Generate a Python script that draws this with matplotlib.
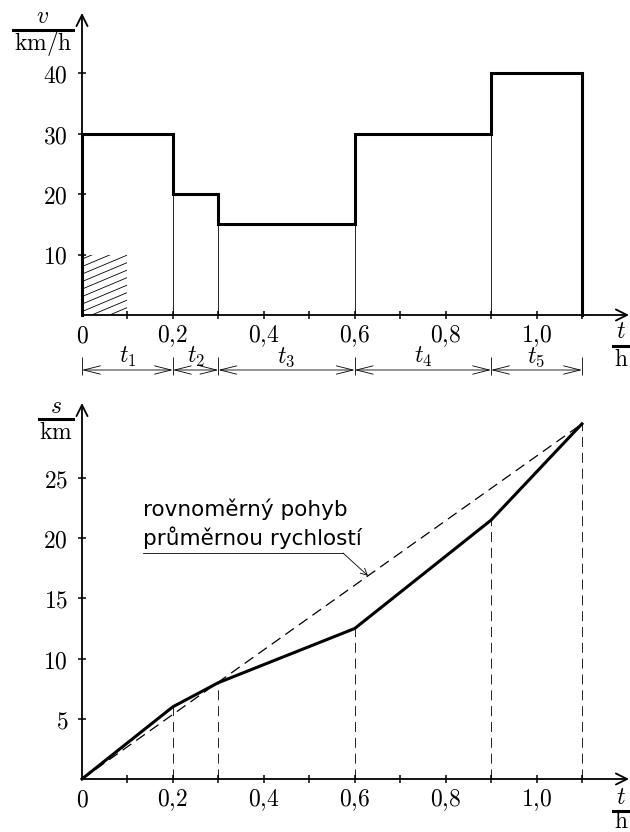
import numpy as np
import matplotlib
matplotlib.use("Agg")
import matplotlib.pyplot as plt
from matplotlib.lines import Line2D
from matplotlib.patches import Rectangle, ArrowStyle

plt.rcParams['mathtext.fontset'] = 'cm'
plt.rcParams['font.family'] = ['DejaVu Sans']

# ---- data ----
t_edges = [0.0, 0.2, 0.3, 0.6, 0.9, 1.1]          # h
v_values = [30, 20, 15, 30, 40]                    # km/h on each interval
s_values = [0, 6, 8, 12.5, 21.5, 29.5]             # km at each edge
interval_labels = [r'$t_1$', r'$t_2$', r'$t_3$', r'$t_4$', r'$t_5$']
x_ticks = [0.1, 0.2, 0.3, 0.4, 0.5, 0.6, 0.7, 0.8, 0.9, 1.0, 1.1]
x_ticklabels = {0.0: '0', 0.2: '0,2', 0.4: '0,4', 0.6: '0,6', 0.8: '0,8', 1.0: '1,0'}
v_ticks = [10, 20, 30, 40]
s_ticks = [5, 10, 15, 20, 25]
hatch_t, hatch_v = 0.1, 10
note_lines = ['rovnoměrný pohyb', 'průměrnou rychlostí']

W, H = 630, 832
fig = plt.figure(figsize=(W / 100, H / 100), dpi=100)

def fx(x):
    return x / W

def fy(y):
    return 1 - y / H

x0px = 82
pxx = 454.5  # px per hour
xmax = (629 - x0px) / pxx

# top axes
top0, top_tip, vscale = 315, 13, 6.05
ax1 = fig.add_axes([fx(x0px), fy(top0), (629 - x0px) / W, (top0 - top_tip) / H])
ax1.set_xlim(0, xmax)
ax1.set_ylim(0, (top0 - top_tip) / vscale)

# bottom axes
bot0, bot_tip, sscale = 779, 403, 12.04
ax2 = fig.add_axes([fx(x0px), fy(bot0), (629 - x0px) / W, (bot0 - bot_tip) / H])
ax2.set_xlim(0, xmax)
ax2.set_ylim(0, (bot0 - bot_tip) / sscale)

FS = 17
for ax, yt in ((ax1, v_ticks), (ax2, s_ticks)):
    for sp in ax.spines.values():
        sp.set_visible(False)
    ax.patch.set_visible(False)
    ax.set_xticks(x_ticks)
    ax.set_xticklabels([])
    ax.set_yticks(yt)
    ax.set_yticklabels([rf'${v}$' for v in yt], fontsize=FS)
    ax.tick_params(axis='both', direction='inout', length=6, width=1.1, color='black')
    ax.tick_params(axis='y', pad=7)
    for xv, lab in x_ticklabels.items():
        ax.annotate(r'$' + lab.replace(',', '{,}') + r'$', xy=(xv, 0), xycoords='data',
                    xytext=(0, -6), textcoords='offset points', ha='center', va='top',
                    fontsize=FS, annotation_clip=False)
    arr = dict(arrowstyle='->', lw=1.3, mutation_scale=20, shrinkA=0, shrinkB=0, color='black')
    ax.annotate('', xy=(xmax, 0), xytext=(0, 0), arrowprops=arr, annotation_clip=False)
    ax.annotate('', xy=(0, ax.get_ylim()[1]), xytext=(0, 0), arrowprops=arr, annotation_clip=False)

# ---- top: step velocity ----
te = np.array(t_edges)
vv = np.array(v_values)
xs = np.concatenate([[te[0]], np.repeat(te, 2)[1:-1], [te[-1]]])
ys = np.concatenate([[0], np.repeat(vv, 2), [0]])
ax1.plot(xs, ys, color='black', lw=2.2, solid_joinstyle='miter', clip_on=False, zorder=5)

inner = te[1:-1]
heights = np.minimum(vv[:-1], vv[1:])
ax1.vlines(inner, 0, heights, color='black', lw=0.6, zorder=3)

# hatched area
clip_rect = Rectangle((0, 0), hatch_t, hatch_v, transform=ax1.transData, facecolor='none', edgecolor='none')
ax1.add_patch(clip_rect)
slope = 0.42 * pxx / vscale
spacing = 7.5 / vscale
for c in np.arange(-slope * hatch_t, hatch_v + spacing, spacing):
    ln, = ax1.plot([0, hatch_t], [c, c + slope * hatch_t], color='black', lw=0.6)
    ln.set_clip_path(clip_rect)

# dimension arrows under the top axis
ydim = (top0 - 370) / vscale
ytk0, ytk1 = (top0 - 357) / vscale, (top0 - 375) / vscale
ylab = (top0 - 357) / vscale
ax1.vlines(te, ytk1, ytk0, color='black', lw=0.6, clip_on=False)
dstyle = ArrowStyle('<->', head_length=1.0, head_width=0.25)
for a, b, lab in zip(te[:-1], te[1:], interval_labels):
    ax1.annotate('', xy=(b, ydim), xytext=(a, ydim),
                 arrowprops=dict(arrowstyle=dstyle, lw=0.6, mutation_scale=12,
                                 shrinkA=0, shrinkB=0, color='black'),
                 annotation_clip=False)
    ax1.text((a + b) / 2, ylab, lab, ha='center', va='center', fontsize=FS)

# ---- bottom: distance ----
ss = np.array(s_values)
ax2.plot(te, ss, color='black', lw=2.2, clip_on=False, zorder=5)
ax2.plot([te[0], te[-1]], [ss[0], ss[-1]], color='black', lw=0.9, dashes=(8.5, 4.8), zorder=4)
ax2.vlines(te[1:], 0, ss[1:], color='black', lw=0.6, linestyles=(0, (12, 7)))

# note
b1 = (bot0 - 516) / sscale
b2 = (bot0 - 545) / sscale
tx = (143 - x0px) / pxx
ax2.text(tx, b1, note_lines[0], fontsize=15.5, ha='left', va='baseline', family='DejaVu Sans')
ax2.text(tx, b2, note_lines[1], fontsize=15.5, ha='left', va='baseline', family='DejaVu Sans')
uy = (bot0 - 553) / sscale
ux1 = (343 - x0px) / pxx
ax2.plot([tx, ux1], [uy, uy], color='black', lw=0.6)
tp = (368 - x0px) / pxx
sp_ = ss[-1] / te[-1] * tp
ax2.annotate('', xy=(tp, sp_), xytext=(ux1, uy),
             arrowprops=dict(arrowstyle='->', lw=0.6, mutation_scale=12, shrinkA=0, shrinkB=0,
                             color='black'))

# ---- unit fractions ----
def frac(cx, ytop, ybar, ybot, x1, x2, num, den):
    fig.text(fx(cx), fy(ytop), num, ha='center', va='center', fontsize=FS)
    fig.add_artist(Line2D([fx(x1), fx(x2)], [fy(ybar), fy(ybar)], color='black', lw=2.2,
                          transform=fig.transFigure))
    fig.text(fx(cx), fy(ybot), den, ha='center', va='center', fontsize=FS)

frac(43, 16, 30, 43, 13, 73, r'$v$', r'$\mathrm{km/h}$')
frac(56, 406, 419, 432, 39, 73, r'$s$', r'$\mathrm{km}$')
frac(621, 331, 346, 359, 613, 630, r'$t$', r'$\mathrm{h}$')
frac(621, 797, 811, 821, 613, 630, r'$t$', r'$\mathrm{h}$')

fig.savefig('out.png', dpi=100)
